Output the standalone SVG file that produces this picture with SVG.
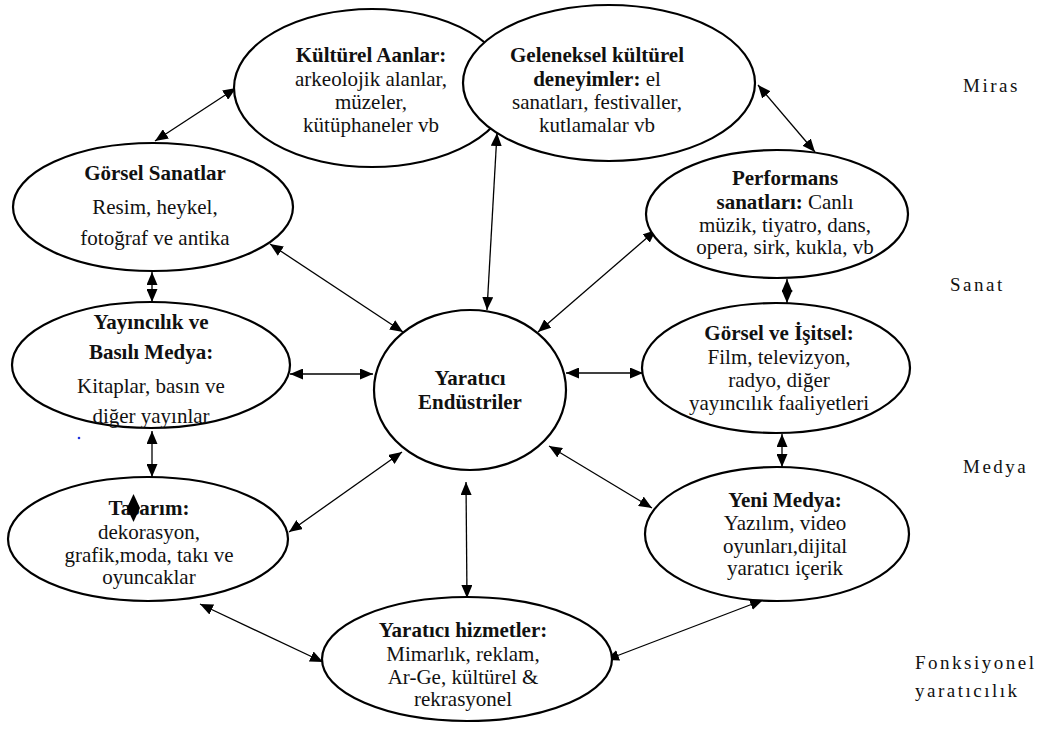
<svg xmlns="http://www.w3.org/2000/svg" width="1046" height="734" viewBox="0 0 1046 734">
<style>
.n{fill:#fff;stroke:#000;stroke-width:2.2}
.t{font-family:'Liberation Serif','DejaVu Serif',serif;font-size:21px;fill:#111;text-anchor:middle}
.b{font-weight:bold}
.s{font-family:'Liberation Serif','DejaVu Serif',serif;font-size:19px;fill:#111;letter-spacing:2.5px}
.c{stroke:#000;stroke-width:1.3;fill:none;marker-start:url(#ah);marker-end:url(#ah)}
</style>
<defs>
<marker id="ah" markerUnits="userSpaceOnUse" markerWidth="13" markerHeight="11" refX="13" refY="5.5" orient="auto-start-reverse">
<path d="M0,0 L13,5.5 L0,11 z" fill="#000"/>
</marker>
</defs>
<rect width="1046" height="734" fill="#fff"/>
<g id="connectors">
<line class="c" x1="155" y1="141" x2="236" y2="88"/>
<line class="c" x1="758" y1="85" x2="815" y2="152"/>
<line class="c" x1="152" y1="272" x2="152" y2="302"/>
<line class="c" x1="152" y1="431" x2="152" y2="477"/>
<line class="c" x1="787" y1="279" x2="787" y2="303"/>
<line class="c" x1="782" y1="434" x2="782" y2="467"/>
<line class="c" x1="200" y1="604" x2="323" y2="662"/>
<line class="c" x1="763" y1="600" x2="606" y2="660"/>
<line class="c" x1="403" y1="332" x2="270" y2="244"/>
<line class="c" x1="497" y1="133" x2="487" y2="310"/>
<line class="c" x1="538" y1="332" x2="656" y2="230"/>
<line class="c" x1="373" y1="374" x2="290" y2="374"/>
<line class="c" x1="566" y1="373" x2="643" y2="373"/>
<line class="c" x1="402" y1="452" x2="289" y2="532"/>
<line class="c" x1="549" y1="446" x2="652" y2="508"/>
<line class="c" x1="466" y1="482" x2="467" y2="598"/>
</g>
<g id="kulturel">
<ellipse class="n" cx="372" cy="88" rx="138" ry="79"/>
<text class="t" x="371" y="62"><tspan class="b">Kültürel Aanlar:</tspan></text>
<text class="t" x="371" y="86">arkeolojik alanlar,</text>
<text class="t" x="371" y="109">müzeler,</text>
<text class="t" x="371" y="132">kütüphaneler vb</text>
</g>
<g id="geleneksel">
<ellipse class="n" cx="609" cy="83" rx="146" ry="78"/>
<text class="t" x="597" y="62"><tspan class="b">Geleneksel kültürel</tspan></text>
<text class="t" x="597" y="86"><tspan class="b">deneyimler:</tspan> el</text>
<text class="t" x="597" y="109">sanatları, festivaller,</text>
<text class="t" x="597" y="132">kutlamalar vb</text>
</g>
<g id="gorsel-sanatlar">
<ellipse class="n" cx="153" cy="207" rx="140" ry="64"/>
<text class="t b" x="155" y="180">Görsel Sanatlar</text>
<text class="t" x="155" y="214">Resim, heykel,</text>
<text class="t" x="155" y="245">fotoğraf ve antika</text>
</g>
<g id="yayincilik">
<ellipse class="n" cx="151" cy="365" rx="139" ry="63"/>
<text class="t b" x="151" y="329">Yayıncılık ve</text>
<text class="t b" x="151" y="359">Basılı Medya:</text>
<text class="t" x="151" y="393">Kitaplar, basın ve</text>
<text class="t" x="151" y="423">diğer yayınlar</text>
<circle cx="79" cy="438" r="1.3" fill="#2233dd"/>
</g>
<g id="tasarim">
<ellipse class="n" cx="148" cy="539" rx="140" ry="62"/>
<text class="t b" x="149" y="515">Tasarım:</text>
<polygon points="133.5,494 140,508 133.5,522 127,508" fill="#000"/>
<text class="t" x="149" y="539">dekorasyon,</text>
<text class="t" x="149" y="562">grafik,moda, takı ve</text>
<text class="t" x="149" y="584">oyuncaklar</text>
</g>
<g id="performans">
<ellipse class="n" cx="777" cy="214" rx="131" ry="64"/>
<text class="t b" x="785" y="185">Performans</text>
<text class="t" x="785" y="209"><tspan class="b">sanatları:</tspan> Canlı</text>
<text class="t" x="785" y="232">müzik, tiyatro, dans,</text>
<text class="t" x="785" y="254">opera, sirk, kukla, vb</text>
</g>
<g id="gorsel-isitsel">
<ellipse class="n" cx="776" cy="368" rx="134" ry="65"/>
<text class="t b" x="779" y="340">Görsel ve İşitsel:</text>
<text class="t" x="779" y="364">Film, televizyon,</text>
<text class="t" x="779" y="387">radyo, diğer</text>
<text class="t" x="779" y="410">yayıncılık faaliyetleri</text>
</g>
<g id="yeni-medya">
<ellipse class="n" cx="777" cy="534" rx="132" ry="67"/>
<text class="t b" x="785" y="507">Yeni Medya:</text>
<text class="t" x="785" y="530">Yazılım, video</text>
<text class="t" x="785" y="553">oyunları,dijital</text>
<text class="t" x="785" y="575">yaratıcı içerik</text>
</g>
<g id="yaratici-hizmetler">
<ellipse class="n" cx="467" cy="659" rx="145" ry="62"/>
<text class="t b" x="463" y="637">Yaratıcı hizmetler:</text>
<text class="t" x="463" y="661">Mimarlık, reklam,</text>
<text class="t" x="463" y="684">Ar-Ge, kültürel &amp;</text>
<text class="t" x="463" y="706">rekrasyonel</text>
</g>
<g id="merkez">
<ellipse class="n" cx="470" cy="390" rx="96" ry="80"/>
<text class="t b" x="470" y="385">Yaratıcı</text>
<text class="t b" x="470" y="409">Endüstriler</text>
</g>
<g id="etiketler">
<text class="s" x="963" y="92">Miras</text>
<text class="s" x="950" y="291">Sanat</text>
<text class="s" x="963" y="473">Medya</text>
<text class="s" x="915" y="669">Fonksiyonel</text>
<text class="s" x="915" y="697">yaratıcılık</text>
</g>
</svg>
